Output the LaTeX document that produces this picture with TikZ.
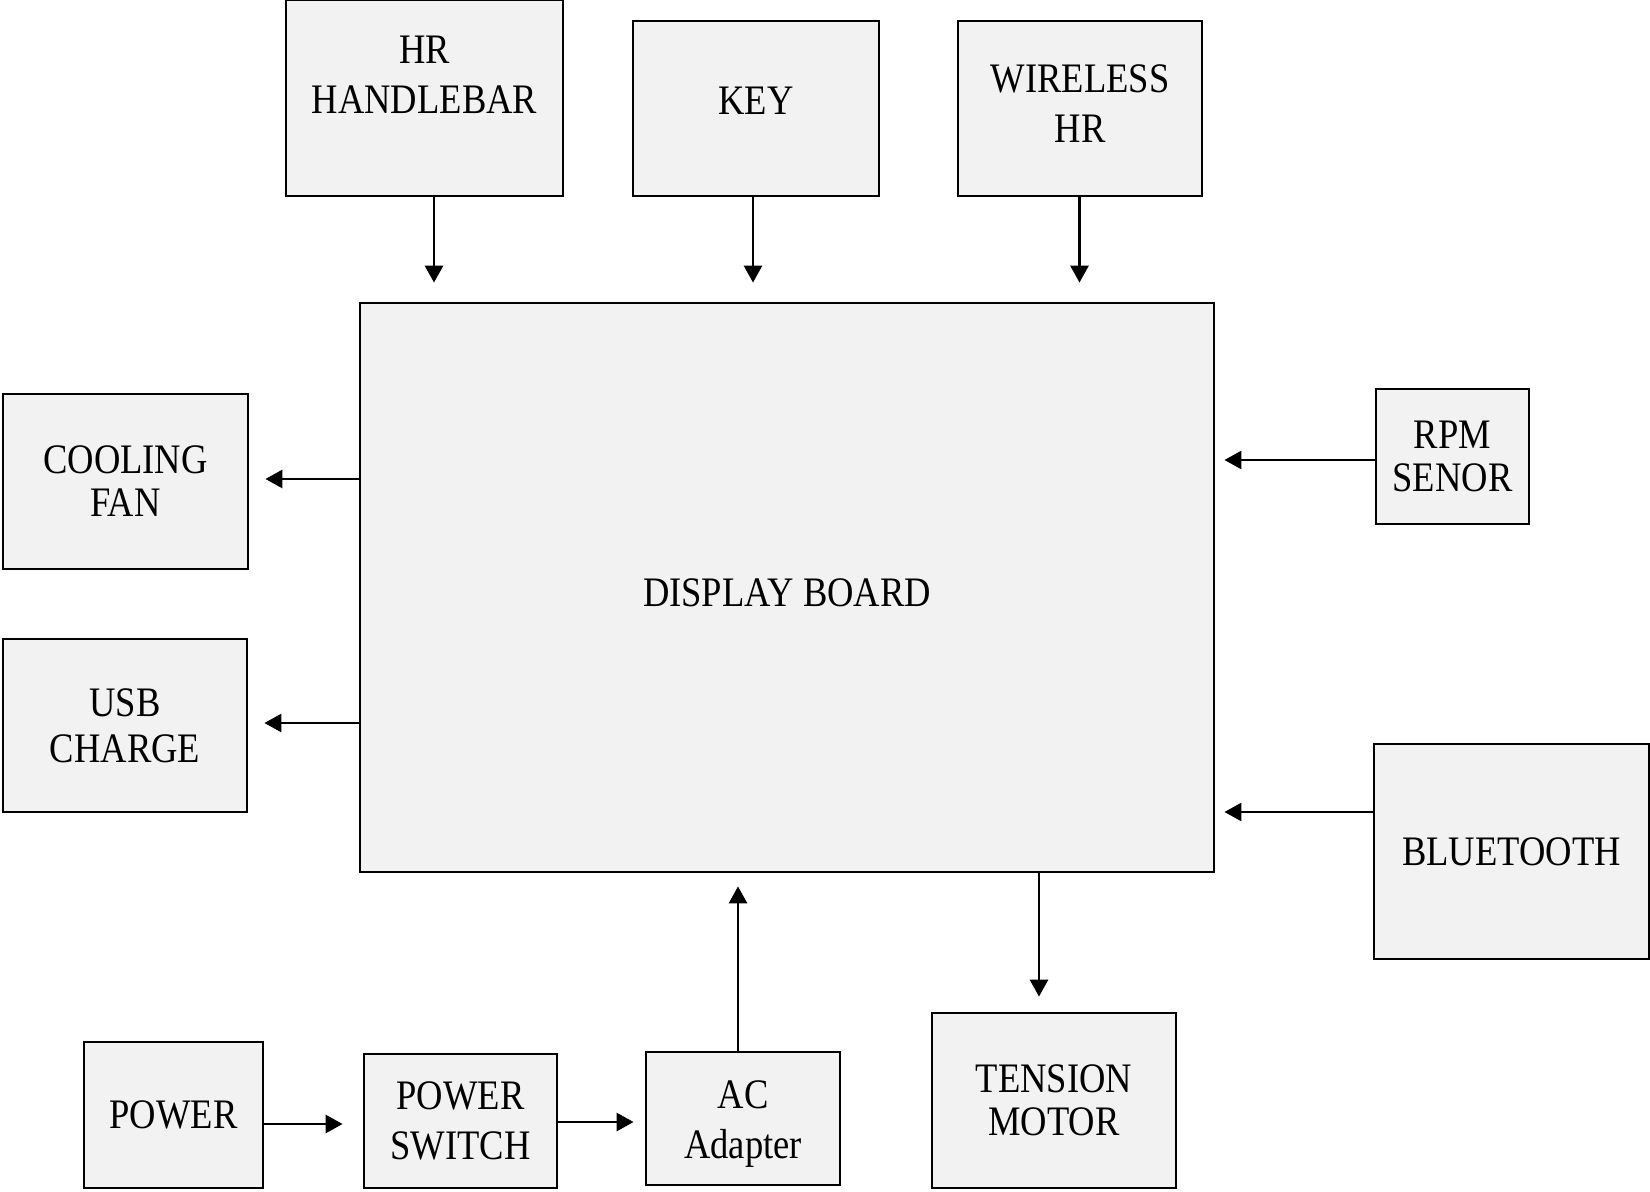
\documentclass[tikz,border=0pt]{standalone}
\usepackage{fontspec}
\setmainfont{Liberation Serif}[FakeStretch=0.87]
\usetikzlibrary{arrows.meta,positioning,calc}
\definecolor{boxfill}{HTML}{F2F2F2}

\begin{document}
\begin{tikzpicture}[x=0.5pt, y=-0.5pt, >={Triangle[length=8.5pt,width=9pt]},
  blk/.style={draw, line width=1.4pt, fill=boxfill, align=center, inner sep=0pt, font=\fontsize{21}{25}\selectfont},
  lbl/.style={align=center, inner sep=0pt, font=\fontsize{21}{25}\selectfont},
  tight/.style={font=\fontsize{21}{21.5}\selectfont},
  arr/.style={->, line width=1.4pt}]
\useasboundingbox (0,0) rectangle (1650,1192);
% top row
\node[blk, minimum width=138.5pt, minimum height=98pt, label={[lbl, yshift=11.4pt]center:HR\\HANDLEBAR}] (hr) at (424.5,98) {};
\node[blk, minimum width=123pt, minimum height=87.5pt, label={[lbl, yshift=3.7pt]center:KEY}] (key) at (756,108.5) {};
\node[blk, minimum width=122pt, minimum height=87.5pt, label={[lbl, yshift=2.6pt]center:WIRELESS\\HR}] (wl) at (1080,108.5) {};
% main board
\node[blk, minimum width=427pt, minimum height=284.5pt, label={[lbl, yshift=-2.6pt]center:DISPLAY BOARD}] (board) at (787,587.5) {};
% left side
\node[blk, tight, minimum width=122.5pt, minimum height=87.5pt] (fan) at (125.5,481.5) {COOLING\\FAN};
\node[blk, minimum width=122pt, minimum height=86.5pt, font=\fontsize{21}{23}\selectfont] (usb) at (125,725.5) {USB\\CHARGE};
% right side
\node[blk, tight, minimum width=76.5pt, minimum height=67.5pt] (rpm) at (1452.5,456.5) {RPM\\SENOR};
\node[blk, minimum width=137.5pt, minimum height=107.5pt] (bt) at (1511.5,851.5) {BLUETOOTH};
% bottom row
\node[blk, minimum width=89.5pt, minimum height=73pt] (pwr) at (173.5,1115) {POWER};
\node[blk, minimum width=96.5pt, minimum height=67pt] (psw) at (460.5,1121) {POWER\\SWITCH};
\node[blk, minimum width=97pt, minimum height=66.5pt, label={[lbl, yshift=-2.6pt]center:AC\\Adapter}] (ac) at (743,1118.5) {};
\node[blk, tight, minimum width=122pt, minimum height=87.5pt] (motor) at (1054,1100.5) {TENSION\\MOTOR};

\draw[arr, shorten >=9.5pt] ([xshift=4.75pt]hr.south) -- ([xshift=4.75pt]hr.south |- board.north);
\draw[arr, shorten >=9.5pt] ([xshift=-1.5pt]key.south) -- ([xshift=-1.5pt]key.south |- board.north);
\draw[arr, shorten >=9.5pt] ([xshift=-0.25pt]wl.south) -- ([xshift=-0.25pt]wl.south |- board.north);
\draw[arr, shorten >=8pt] ([yshift=1.25pt]fan.east -| board.west) -- ([yshift=1.25pt]fan.east);
\draw[arr, shorten >=8pt] ([yshift=1.25pt]usb.east -| board.west) -- ([yshift=1.25pt]usb.east);
\draw[arr, shorten >=4.5pt] ([yshift=-1.75pt]rpm.west) -- ([yshift=-1.75pt]rpm.west -| board.east);
\draw[arr, shorten >=4.5pt] ([yshift=19.75pt]bt.west) -- ([yshift=19.75pt]bt.west -| board.east);
\draw[arr, shorten >=7.5pt] ([xshift=-7.5pt]motor.north |- board.south) -- ([xshift=-7.5pt]motor.north);
\draw[arr, shorten >=6.5pt] ([xshift=-2.5pt]ac.north) -- ([xshift=-2.5pt]ac.north |- board.south);
\draw[arr, shorten >=5.5pt] ([yshift=-0.5pt]psw.east) -- ([yshift=-0.5pt]psw.east -| ac.west);
\draw[arr, shorten >=10pt] ([yshift=-4.5pt]pwr.east) -- ([yshift=-4.5pt]pwr.east -| psw.west);
\end{tikzpicture}
\end{document}
